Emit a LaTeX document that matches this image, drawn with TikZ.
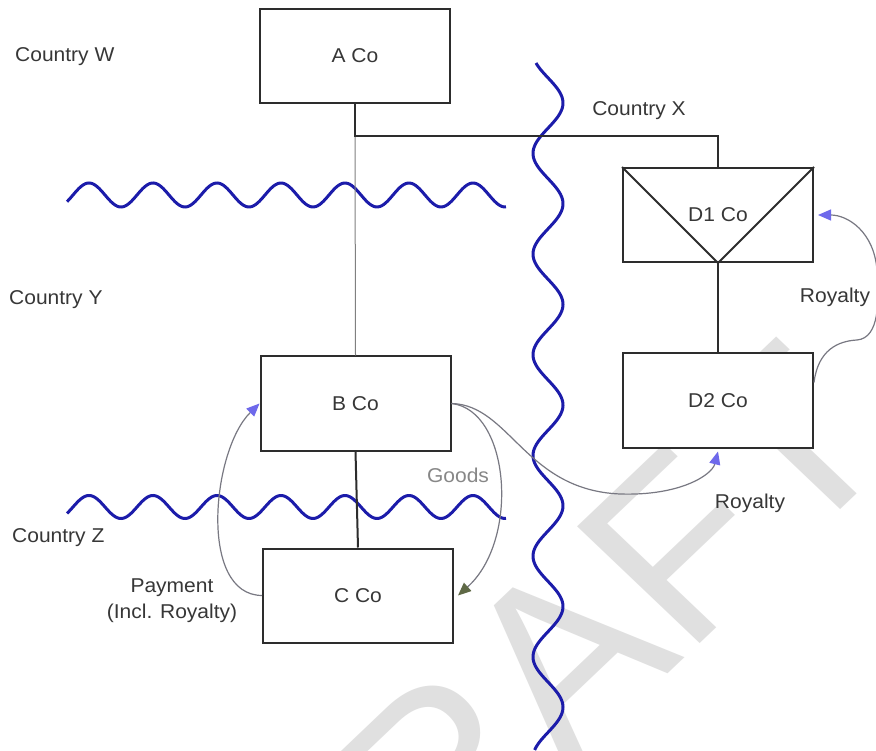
\documentclass[tikz,border=0pt]{standalone}
\usepackage{fontspec}
\setmainfont[FakeStretch=1.05]{Liberation Sans}
\newfontfamily\wmfont{Liberation Sans}
\usetikzlibrary{arrows.meta}
\definecolor{wavec}{RGB}{28,28,170}
\definecolor{edgec}{RGB}{45,45,45}
\definecolor{curvec}{RGB}{120,120,130}
\definecolor{tipblue}{RGB}{110,105,235}
\definecolor{tipolive}{RGB}{95,105,70}
\definecolor{wmc}{RGB}{224,224,224}
\definecolor{txtc}{RGB}{55,55,55}
\definecolor{goodsc}{RGB}{135,135,135}
\begin{document}
\begin{tikzpicture}[x=1pt,y=-1pt,
  company/.style={draw=edgec, line width=2pt, fill=white, minimum width=190pt, minimum height=94pt, inner sep=0pt, font=\fontsize{20}{24}\selectfont, text=txtc},
  lbl/.style={font=\fontsize{20}{26}\selectfont, text=txtc, inner sep=0pt},
  border/.style={draw=wavec, line width=3pt},
  link/.style={draw=edgec, line width=2pt},
  thinlink/.style={draw=gray, line width=1pt},
  flow/.style={draw=curvec, line width=1.2pt},
  bluetip/.style={-{Triangle[length=13pt,width=11pt,color=tipblue]}},
  olivetip/.style={-{Triangle[length=13pt,width=11pt,color=tipolive]}},
]
\useasboundingbox (0,0) rectangle (876,751);
\fill[white] (0,0) rectangle (876,751);
\clip (0,0) rectangle (876,751);

% watermark
\node[font=\wmfont\fontsize{240}{240}\selectfont, text=wmc, xscale=1.05, rotate=45, anchor=base west, inner sep=0pt] (draft) at (309,1016) {DRAFT};

% borders between countries
\draw[border] plot[domain=67:506, samples=220, smooth, variable=\t] ({\t},{195-12*cos(5.625*(\t-89))});
\draw[border] plot[domain=67:506, samples=220, smooth, variable=\t] ({\t},{507-11.5*cos(5.625*(\t-89))});
\draw[border] plot[domain=63:750, samples=320, smooth, variable=\t] ({548+15*cos(3.575*(\t-103))},{\t});

% companies
\node[company] (aco) at (355,56) {A Co};
\node[company] (bco) at (355.5,403.5) {B Co};
\node[company] (cco) at (358,595.5) {C Co};
\node[company] (d1) at (718,215) {D1 Co};
\node[company] (d2) at (718,400.5) {D2 Co};

\draw[link] (d1.north west) -- (d1.south) -- (d1.north east);

% ownership links
\coordinate (junc) at (355,136);
\draw[thinlink] (junc) -- (bco.north);
\draw[link] (aco.south) -- (junc) -| (d1.north);
\draw[link] (bco.south) -- (cco.north);
\draw[link] (d1.south) -- (d2.north);

% flows
\draw[flow, bluetip] (cco.west) .. controls (198,595) and (212,450) .. (bco.west);
\draw[flow, olivetip] (bco.east) .. controls (510,410) and (520,540) .. ([xshift=4pt]cco.east);
\draw[flow, bluetip] (bco.east) .. controls (510,405) and (525,490) .. (620,494) .. controls (680,496) and (712,475) .. ([yshift=-3pt]d2.south);
\draw[flow, bluetip] ([yshift=18pt]d2.east) .. controls (818,350) and (838,341) .. (857,340) .. controls (880,338) and (879,300) .. (877,270) .. controls (874,232) and (848,215) .. ([xshift=4pt]d1.east);

% labels
\node[lbl, anchor=west] (cw) at (15,57) {Country W};
\node[lbl] (cx) at (639,111) {Country X};
\node[lbl, anchor=west] (cy) at (9,300) {Country Y};
\node[lbl, anchor=west] (cz) at (12,538) {Country Z};
\node[lbl, align=center] (pay) at (172,601) {Payment\\(Incl. Royalty)};
\node[lbl, text=goodsc] (goods) at (458,475) {Goods};
\node[lbl] (roy1) at (835,297) {Royalty};
\node[lbl] (roy2) at (750,503) {Royalty};
\end{tikzpicture}
\end{document}
